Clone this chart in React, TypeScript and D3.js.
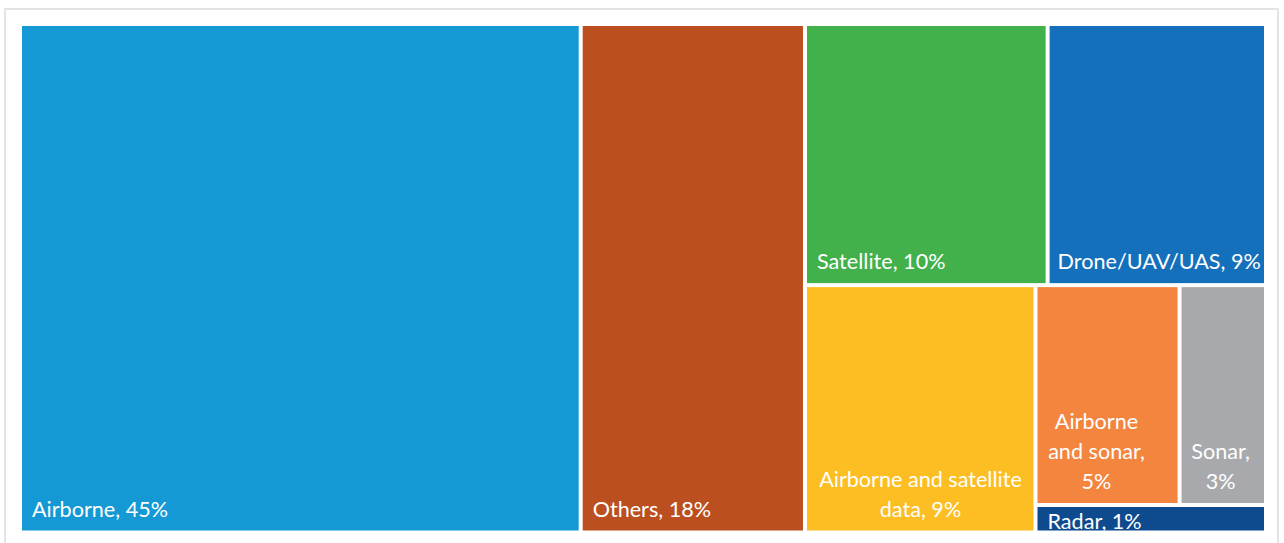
import React from "react";
import * as d3 from "d3";

const categories = [
  "Airborne",
  "Others",
  "Satellite",
  "Drone/UAV/UAS",
  "Airborne and satellite data",
  "Airborne and sonar",
  "Sonar",
  "Radar",
];
const shares = [45, 18, 10, 9, 9, 5, 3, 1];
const labelLines = [
  ["Airborne, 45%"],
  ["Others, 18%"],
  ["Satellite, 10%"],
  ["Drone/UAV/UAS, 9%"],
  ["Airborne and satellite", "data, 9%"],
  ["Airborne", "and sonar,", "5%"],
  ["Sonar,", "3%"],
  ["Radar, 1%"],
];
const colors = [
  "#1599d4",
  "#bc4f1f",
  "#42b14b",
  "#1570bc",
  "#fcbe22",
  "#f4853f",
  "#a7a9ac",
  "#0e4b8e",
];
// nesting of the layout (indices into categories)
const layout: any = [0, 1, [[2, 3], [4, [[5, 6], 7]]]];

function build(node: any): any {
  if (typeof node === "number") return { idx: node, value: shares[node] };
  return { children: node.map(build) };
}

const W = 1284;
const H = 543;
const X0 = 22;
const Y0 = 26;
const TW = 1242;
const TH = 504.5;
const FONT = "Lato, 'Open Sans', sans-serif";
const FS = 21.6;
const LH = 30;

export default function App() {
  const root = d3
    .hierarchy(build(layout))
    .sum((d: any) => (d.children ? 0 : d.value));
  d3.treemap().tile(d3.treemapSliceDice).size([TW, TH]).paddingInner(4)(root as any);
  const leaves = root.leaves() as any[];

  return (
    <svg
      width={W}
      height={H}
      style={{ position: "absolute", left: 0, top: 0, display: "block", background: "#fff" }}
    >
      <rect x={5} y={9} width={1273} height={600} fill="#fff" stroke="#e4e4e4" strokeWidth={2} />
      <defs>
        {leaves.map((l) => (
          <clipPath id={`clip${l.data.idx}`} key={l.data.idx}>
            <rect x={l.x0} y={l.y0} width={l.x1 - l.x0} height={l.y1 - l.y0} />
          </clipPath>
        ))}
      </defs>
      <g transform={`translate(${X0},${Y0})`}>
        {leaves.map((l) => {
          const i = l.data.idx;
          const lines = labelLines[i];
          const multi = lines.length > 1;
          const pad = i === 3 ? 8 : 10;
          const bottomBase = l.y1 - 14;
          const firstBase = bottomBase - (lines.length - 1) * LH;
          let anchor = "start";
          let tx = l.x0 + pad;
          if (multi) {
            anchor = "middle";
            const widths: Record<number, number> = { 4: 207, 5: 98, 6: 58 };
            tx = l.x0 + pad + (widths[i] || 0) / 2;
          }
          const base = i === 7 ? l.y1 - 2 : multi ? firstBase : bottomBase;
          const b2 = i === 2 || i === 3 ? l.y1 - 14 : base;
          return (
            <g key={i}>
              <rect x={l.x0} y={l.y0} width={l.x1 - l.x0} height={l.y1 - l.y0} fill={colors[i]} />
              <text
                clipPath={`url(#clip${i})`}
                x={tx}
                y={b2}
                fill="#fff"
                fontFamily={FONT}
                fontSize={FS}
                textAnchor={anchor as any}
              >
                {lines.map((s, k) => (
                  <tspan key={k} x={tx} y={b2 + k * LH}>
                    {s}
                  </tspan>
                ))}
              </text>
            </g>
          );
        })}
      </g>
    </svg>
  );
}
